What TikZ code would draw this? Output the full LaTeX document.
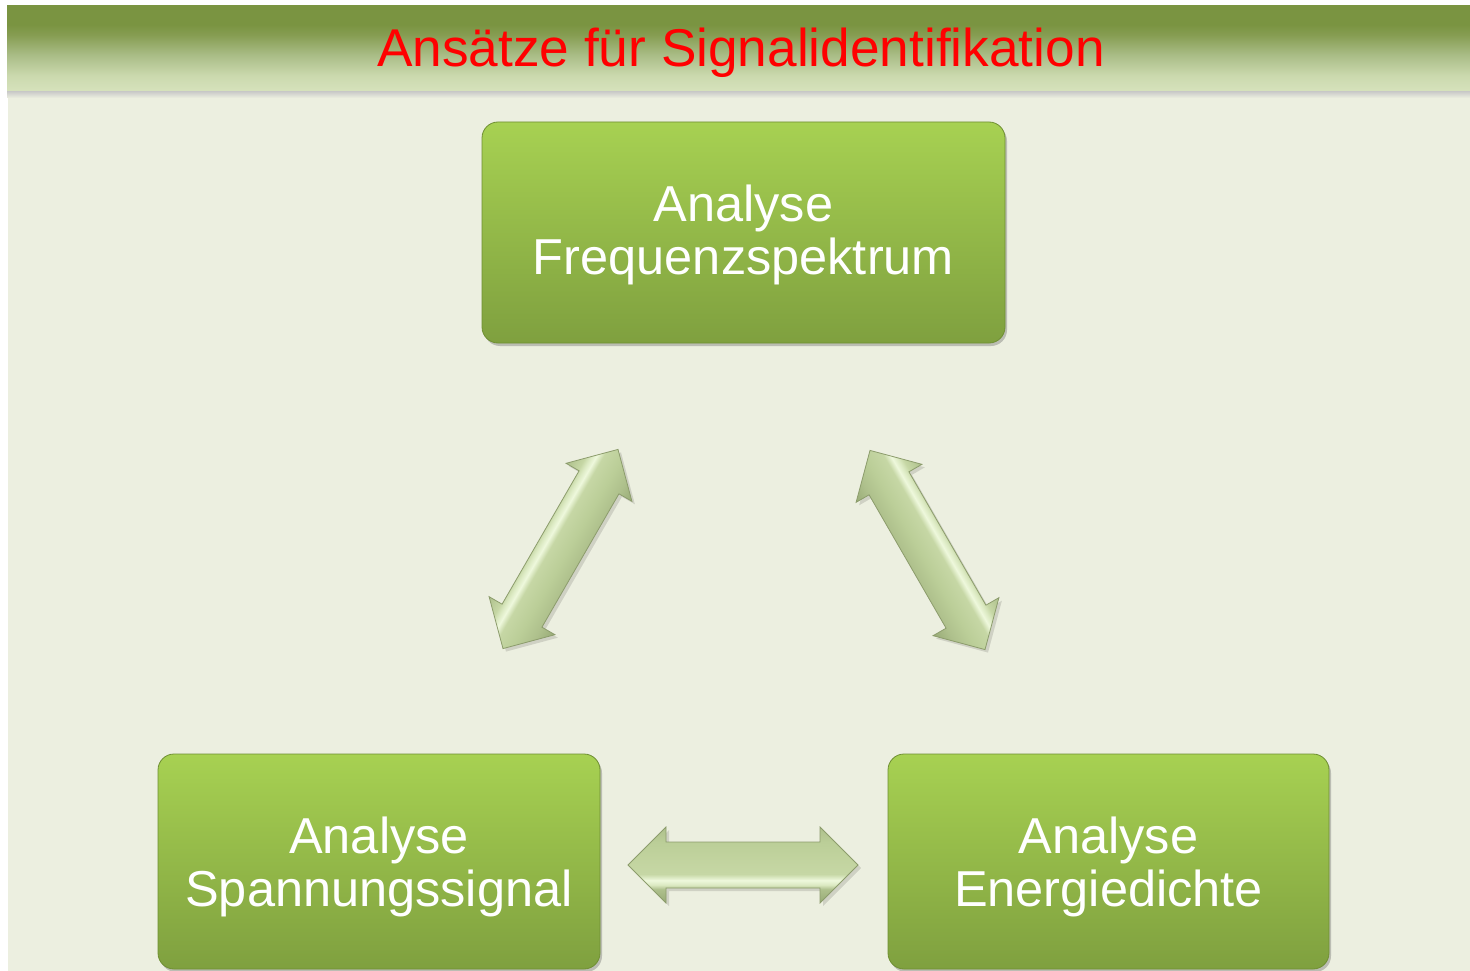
\documentclass[tikz,border=0pt]{standalone}
\usepackage{fontspec}
\setmainfont{Liberation Sans}
\usetikzlibrary{shadows}
\definecolor{bg}{HTML}{ECEFE0}
\definecolor{hdrD}{HTML}{7A9441}
\definecolor{hdrD2}{HTML}{869D52}
\definecolor{hdrM}{HTML}{AABD87}
\definecolor{hdrL2}{HTML}{CBD9AE}
\definecolor{hdrL}{HTML}{D6E2BC}
\definecolor{boxT}{HTML}{A7D152}
\definecolor{boxB}{HTML}{7FA03F}
\definecolor{boxE}{HTML}{6F8F33}
\definecolor{aE1}{HTML}{98AB76}
\definecolor{aE2}{HTML}{AEC08C}
\definecolor{aHi}{HTML}{EEF8DC}
\definecolor{aHi2}{HTML}{DCEAC3}
\definecolor{aM1}{HTML}{C6D7A5}
\definecolor{aM2}{HTML}{C1D39E}
\definecolor{aM3}{HTML}{BBCE98}
\definecolor{aLine}{HTML}{8C9C6C}
\pgfdeclareverticalshading{hdrshade}{100bp}{color(0bp)=(hdrL); color(25bp)=(hdrL); color(34bp)=(hdrL2); color(46bp)=(hdrM); color(58bp)=(hdrD2); color(64bp)=(hdrD); color(100bp)=(hdrD)}
\pgfdeclareverticalshading{arrlow}{100bp}{color(0bp)=(aE1); color(25bp)=(aE1); color(34bp)=(aE2); color(37bp)=(aHi2); color(40bp)=(aHi); color(44bp)=(aM1); color(55bp)=(aM2); color(65bp)=(aM3); color(75bp)=(aE2); color(100bp)=(aE2)}
\pgfdeclareverticalshading{arrhigh}{100bp}{color(0bp)=(aE1); color(25bp)=(aE1); color(35bp)=(aE2); color(45bp)=(aM3); color(56bp)=(aM1); color(60bp)=(aHi); color(63bp)=(aHi2); color(66bp)=(aM1); color(75bp)=(aE2); color(100bp)=(aE2)}
\tikzset{
  boxnode/.style={rectangle, rounded corners=16pt, top color=boxT, bottom color=boxB,
    draw=boxE, line width=0.8pt, text=white, align=center,
    font=\fontsize{50.5}{53}\selectfont, text depth=0pt, inner sep=0pt,
    drop shadow={shadow xshift=2pt, shadow yshift=-3pt, opacity=0.3, fill=black!70}},
  titlenode/.style={text=red, font=\fontsize{53.2}{60}\selectfont, inner sep=0pt},
  arrowshape/.style={draw=aLine, line width=0.8pt, line join=miter},
  arrowshadow/.style={fill=black, opacity=0.12},
}
\newcommand{\blockarrowpath}{(-115,0) -- (-77,38) -- (-77,23) -- (77,23) -- (77,38) -- (115,0) -- (77,-38) -- (77,-23) -- (-77,-23) -- (-77,-38) -- cycle}
\begin{document}
\begin{tikzpicture}[x=1pt,y=1pt]
\useasboundingbox (0,0) rectangle (1470,-971);
\fill[white] (0,0) rectangle (1470,-971);
% background
\fill[bg] (8,-91) rectangle (1470,-971);
% header shadow
\shade[top color=black!22, bottom color=bg] (7,-91) rectangle (1470,-98);
% header
\shade[shading=hdrshade] (7,-6) rectangle (1470,-91);
\node[titlenode, anchor=base] (title) at (741,-67) {Ansätze für Signalidentifikation};
% boxes
\node[boxnode, minimum width=523pt, minimum height=221pt] (freq) at (743.5,-232.5) {};
\node[text=white, align=center, font=\fontsize{50.5}{53}\selectfont, text depth=0pt, inner sep=0pt] (freqtxt) at (743.5,-230) {Analyse\\Frequenzspektrum};
\node[boxnode, minimum width=442pt, minimum height=215pt] (span) at (379,-861.5) {Analyse\\Spannungssignal};
\node[boxnode, minimum width=441pt, minimum height=215pt] (ener) at (1108.5,-861.5) {Analyse\\Energiedichte};
% arrow centres
\coordinate (aL) at (560.5,-549);
\coordinate (aR) at (927.5,-550);
\coordinate (aB) at (743,-865);
% left diagonal arrow
\begin{scope}[transform canvas={shift={(563.5,-552)}, rotate=60}]
  \fill[arrowshadow] \blockarrowpath;
\end{scope}
\begin{scope}[transform canvas={shift={(aL)}, rotate=60}]
  \shade[shading=arrhigh, arrowshape] \blockarrowpath;
\end{scope}
% right diagonal arrow
\begin{scope}[transform canvas={shift={(930.5,-553)}, rotate=-60}]
  \fill[arrowshadow] \blockarrowpath;
\end{scope}
\begin{scope}[transform canvas={shift={(aR)}, rotate=-60}]
  \shade[shading=arrhigh, arrowshape] \blockarrowpath;
\end{scope}
% bottom horizontal arrow
\begin{scope}[transform canvas={shift={(746,-868)}}]
  \fill[arrowshadow] \blockarrowpath;
\end{scope}
\begin{scope}[transform canvas={shift={(aB)}}]
  \shade[shading=arrlow, arrowshape] \blockarrowpath;
\end{scope}
\end{tikzpicture}
\end{document}
